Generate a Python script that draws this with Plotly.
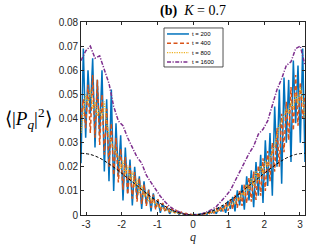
import numpy as np
import plotly.graph_objects as go

# ---------------- data ----------------
q_fine = np.linspace(-np.pi, np.pi, 97)
q_coarse = np.linspace(-np.pi, np.pi, 49)
q_ref = np.linspace(-np.pi, np.pi, 25)

t200 = [0.0215, 0.0690, 0.0320, 0.0600, 0.0420, 0.0650, 0.0280, 0.0560, 0.0330, 0.0600,
        0.0180, 0.0480, 0.0140, 0.0520, 0.0100, 0.0380, 0.0160, 0.0330, 0.0060, 0.0280,
        0.0090, 0.0230, 0.0040, 0.0200, 0.0070, 0.0160, 0.0025, 0.0140, 0.0045, 0.0105,
        0.0015, 0.0090, 0.0030, 0.0060, 0.0009, 0.0048, 0.0018, 0.0030, 0.0005, 0.0024,
        0.0010, 0.0014, 0.0003, 0.0010, 0.0004, 0.0005, 0.0001, 0.0002,
        0.0000, 0.0002, 0.0001, 0.0005, 0.0003, 0.0009, 0.0003, 0.0015, 0.0008, 0.0020,
        0.0005, 0.0031, 0.0015, 0.0040, 0.0009, 0.0058, 0.0025, 0.0075, 0.0015, 0.0102,
        0.0040, 0.0125, 0.0022, 0.0160, 0.0060, 0.0185, 0.0032, 0.0220, 0.0080, 0.0250,
        0.0050, 0.0310, 0.0120, 0.0340, 0.0080, 0.0450, 0.0200, 0.0520, 0.0130, 0.0570,
        0.0300, 0.0560, 0.0220, 0.0640, 0.0380, 0.0620, 0.0300, 0.0690, 0.0220]

t400 = [0.0400, 0.0480, 0.0360, 0.0540, 0.0340, 0.0580, 0.0320, 0.0560, 0.0290, 0.0500,
        0.0250, 0.0440, 0.0200, 0.0380, 0.0165, 0.0320, 0.0135, 0.0275, 0.0105, 0.0240,
        0.0085, 0.0205, 0.0068, 0.0178, 0.0055, 0.0152, 0.0046, 0.0128, 0.0038, 0.0104,
        0.0030, 0.0084, 0.0023, 0.0066, 0.0018, 0.0050, 0.0014, 0.0036, 0.0011, 0.0026,
        0.0008, 0.0018, 0.0006, 0.0012, 0.0004, 0.0007, 0.0002, 0.0003,
        0.0000, 0.0001, 0.0003, 0.0002, 0.0007, 0.0004, 0.0012, 0.0006, 0.0018, 0.0008,
        0.0026, 0.0011, 0.0036, 0.0014, 0.0050, 0.0018, 0.0066, 0.0023, 0.0084, 0.0030,
        0.0105, 0.0038, 0.0128, 0.0048, 0.0155, 0.0055, 0.0180, 0.0062, 0.0205, 0.0080,
        0.0235, 0.0100, 0.0265, 0.0140, 0.0300, 0.0180, 0.0360, 0.0200, 0.0420, 0.0260,
        0.0470, 0.0310, 0.0530, 0.0350, 0.0580, 0.0370, 0.0550, 0.0400, 0.0500]

t800 = [0.0340, 0.0420, 0.0500, 0.0460, 0.0520, 0.0440, 0.0470, 0.0410, 0.0440, 0.0400,
        0.0470, 0.0380, 0.0330, 0.0300, 0.0275, 0.0255, 0.0240, 0.0190, 0.0225, 0.0165,
        0.0205, 0.0140, 0.0180, 0.0115, 0.0150, 0.0092, 0.0122, 0.0075, 0.0095, 0.0060,
        0.0068, 0.0048, 0.0050, 0.0036, 0.0032, 0.0026, 0.0022, 0.0018, 0.0015, 0.0012,
        0.0010, 0.0008, 0.0007, 0.0005, 0.0004, 0.0003, 0.0002, 0.0001,
        0.0000, 0.0001, 0.0002, 0.0003, 0.0004, 0.0006, 0.0007, 0.0009, 0.0011, 0.0013,
        0.0015, 0.0019, 0.0022, 0.0027, 0.0030, 0.0037, 0.0040, 0.0050, 0.0048, 0.0068,
        0.0062, 0.0092, 0.0082, 0.0125, 0.0100, 0.0155, 0.0118, 0.0182, 0.0142, 0.0205,
        0.0172, 0.0225, 0.0200, 0.0240, 0.0260, 0.0290, 0.0330, 0.0370, 0.0390, 0.0410,
        0.0440, 0.0420, 0.0470, 0.0440, 0.0500, 0.0460, 0.0530, 0.0480, 0.0400]

t1600 = [0.0640, 0.0680, 0.0700, 0.0650, 0.0660, 0.0600, 0.0545, 0.0450, 0.0390, 0.0370,
         0.0320, 0.0280, 0.0240, 0.0215, 0.0165, 0.0135, 0.0105, 0.0078, 0.0055, 0.0035,
         0.0022, 0.0012, 0.0005, 0.0001, 0.0000, 0.0001, 0.0005, 0.0012, 0.0022, 0.0035,
         0.0055, 0.0078, 0.0102, 0.0140, 0.0175, 0.0215, 0.0255, 0.0285, 0.0335, 0.0355,
         0.0390, 0.0455, 0.0520, 0.0565, 0.0620, 0.0635, 0.0690, 0.0700, 0.0620]

ref_curve = [0.0256, 0.0251, 0.0236, 0.0212, 0.0184, 0.0153, 0.0122, 0.0090, 0.0061,
             0.0036, 0.0016, 0.0004, 0.0000, 0.0004, 0.0016, 0.0036, 0.0061, 0.0090,
             0.0122, 0.0153, 0.0184, 0.0212, 0.0236, 0.0251, 0.0256]

series_names = ["t = 200", "t = 400", "t = 800", "t = 1600"]
x_ticks = [-3, -2, -1, 0, 1, 2, 3]
x_ticktext = ["-3", "-2", "-1", "0", "1", "2", "3"]
y_ticks = [0, 0.01, 0.02, 0.03, 0.04, 0.05, 0.06, 0.07, 0.08]
y_ticktext = ["0", "0.01", "0.02", "0.03", "0.04", "0.05", "0.06", "0.07", "0.08"]

# ---------------- styles ----------------
colors = ["#0072BD", "#D95319", "#EDB120", "#7E2F8E"]
dashes = ["solid", "4px,2.5px", "1.2px,1.2px", "4px,1.5px,1.2px,1.5px"]
widths = [1.5, 1.5, 1.3, 1.5]
xs = [q_fine, q_fine, q_fine, q_coarse]
ys = [t200, t400, t800, t1600]

fig = go.Figure()
for name, x, y, c, d, w in zip(series_names, xs, ys, colors, dashes, widths):
    fig.add_trace(go.Scatter(x=x, y=y, mode="lines", name=name,
                             line=dict(color=c, dash=d, width=w), showlegend=False))
fig.add_trace(go.Scatter(x=q_ref, y=ref_curve, mode="lines", line_shape="spline",
                         line=dict(color="black", dash="3px,2px", width=1), showlegend=False))

axis_common = dict(showline=True, linecolor="#262626", linewidth=0.8, mirror="allticks",
                   ticks="inside", ticklen=3, tickcolor="#262626", tickwidth=0.8,
                   showgrid=False, zeroline=False,
                   tickfont=dict(family="Liberation Sans", size=10, color="#262626"))

fig.update_layout(
    width=312, height=245,
    margin=dict(l=81, r=7, t=22, b=30),
    paper_bgcolor="white", plot_bgcolor="white",
    title=dict(text="<b>(b)</b>  <i>K</i> = 0.7", x=0.5, xref="paper", xanchor="center",
               y=1 - 10 / 245, yref="container", yanchor="middle",
               font=dict(family="Liberation Serif", size=14, color="black")),
    xaxis=dict(range=[-np.pi, np.pi], tickvals=x_ticks, ticktext=x_ticktext, **axis_common),
    yaxis=dict(range=[0, 0.08], tickvals=y_ticks, ticktext=y_ticktext, **axis_common),
)

# axis labels
fig.add_annotation(text="⟨|<i>P</i><sub><i>q</i></sub>|<sup>2</sup>⟩", xref="paper", yref="paper",
                   x=-0.236, y=0.5, xanchor="center", yanchor="middle", showarrow=False,
                   font=dict(family="Liberation Serif", size=19, color="black"))
fig.add_annotation(text="<i>q</i>", xref="x", yref="paper", x=0, y=-0.115,
                   xanchor="center", yanchor="middle", showarrow=False,
                   font=dict(family="Liberation Serif", size=12, color="#262626"))

# compact legend box (MATLAB-like)
lx0, lx1, ly1, ly0 = 0.3705, 0.634, 0.969, 0.767
fig.add_shape(type="rect", xref="paper", yref="paper", x0=lx0, x1=lx1, y0=ly0, y1=ly1,
              line=dict(color="#262626", width=0.8), fillcolor="white", layer="above")
row_y = [0.938, 0.890, 0.841, 0.793]
for name, c, d, w, ry in zip(series_names, colors, dashes, widths, row_y):
    fig.add_shape(type="line", xref="paper", yref="paper", x0=0.384, x1=0.482, y0=ry, y1=ry,
                  line=dict(color=c, dash=d, width=w), layer="above")
    fig.add_annotation(text=name, xref="paper", yref="paper", x=0.488, y=ry,
                       xanchor="left", yanchor="middle", showarrow=False,
                       font=dict(family="Liberation Sans", size=6, color="black"))

fig.write_html("out.html", config={"displayModeBar": False},
               post_script="document.body.style.margin='0';")
